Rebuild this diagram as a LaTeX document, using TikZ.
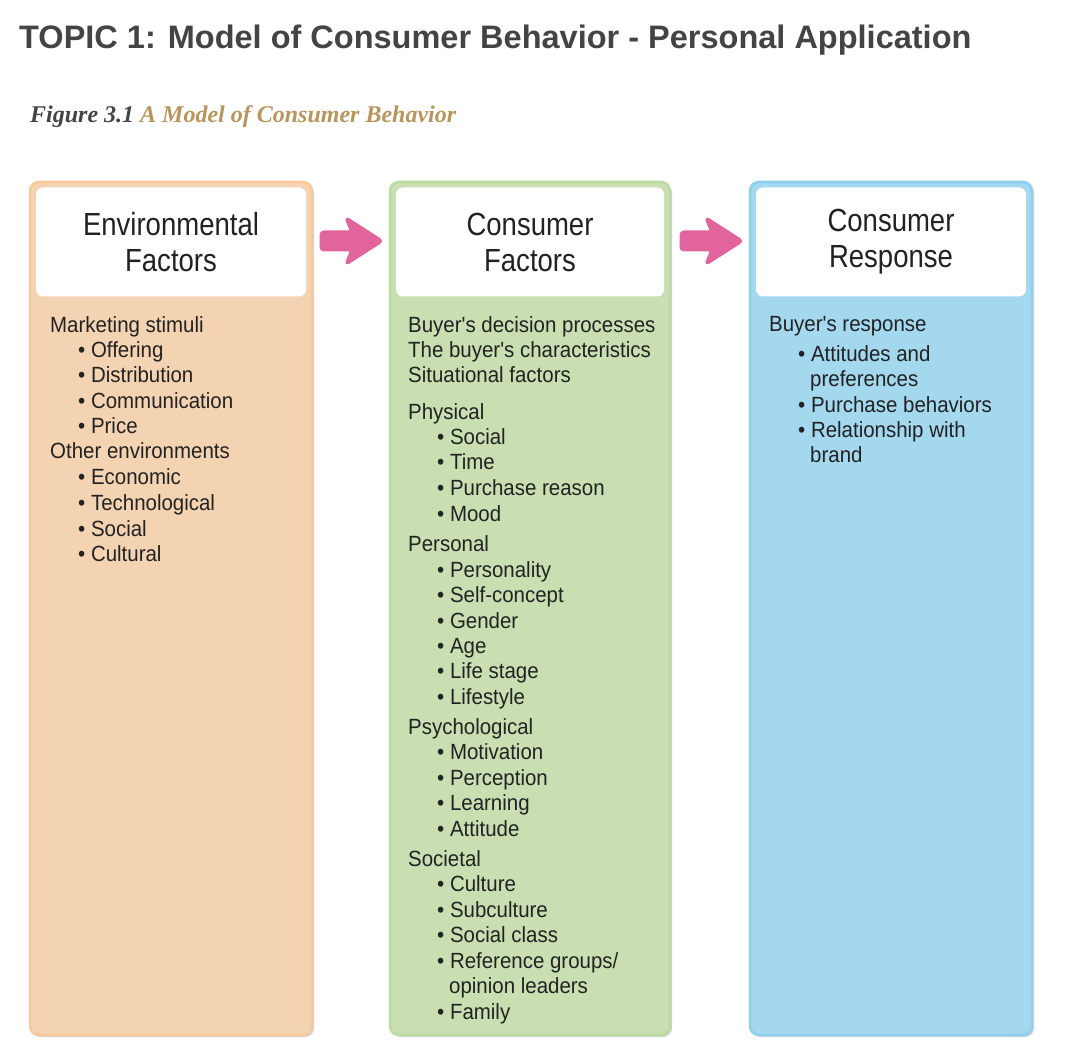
\documentclass[tikz,border=0pt]{standalone}
\usepackage{fontspec}
\setmainfont{Liberation Sans}
\newfontfamily\narrow[FakeStretch=0.86]{Liberation Sans}
\newfontfamily\bodyfont[FakeStretch=0.93]{Liberation Sans}
\newfontfamily\capfont{Liberation Serif}
\usetikzlibrary{shadows}
\definecolor{titlegray}{HTML}{444444}
\definecolor{tan}{HTML}{B8955C}
\definecolor{envfill}{HTML}{F4D3B2}
\definecolor{envline}{HTML}{F7C99A}
\definecolor{conffill}{HTML}{C9DFB2}
\definecolor{confline}{HTML}{BBDCA0}
\definecolor{resfill}{HTML}{A3D8EF}
\definecolor{resline}{HTML}{8CD0EE}
\definecolor{pinkarr}{HTML}{E2649C}
\definecolor{txt}{HTML}{222222}
\tikzset{
 col/.style={rounded corners=9pt,line width=2.5pt,drop shadow={shadow xshift=2pt,shadow yshift=-2pt,opacity=0.35}},
 head/.style={fill=white,rounded corners=7pt,inner sep=0pt,align=center,font=\narrow\fontsize{32}{36}\selectfont,text=txt},
 ln/.style={anchor=base west,inner sep=0pt,font=\bodyfont\fontsize{22}{25}\selectfont,text=txt},
 parr/.style={fill=pinkarr,draw=pinkarr,line width=3pt,line join=round,rounded corners=3pt}
}
\begin{document}
\begin{tikzpicture}[x=1pt,y=-1pt]
\useasboundingbox[fill=white] (0,0) rectangle (1074,1064);
\node[anchor=west,inner sep=0pt,font=\bfseries\fontsize{32.5}{36}\selectfont,text=titlegray] (title) at (19,40) {TOPIC 1: Model of Consumer Behavior - Personal Application};
\node[anchor=west,inner sep=0pt,font=\capfont\bfseries\itshape\fontsize{24}{28}\selectfont] (cap) at (30,117) {\textcolor{titlegray}{Figure 3.1} \textcolor{tan}{A Model of Consumer Behavior}};
% columns
\draw[col,fill=envfill,draw=envline] (30,182) rectangle (312,1035);
\draw[col,fill=conffill,draw=confline] (390,182) rectangle (670,1035);
\draw[col,fill=resfill,draw=resline] (750,182) rectangle (1032,1035);
\node[head,minimum width=270pt,minimum height=109pt] (h1) at (171,242) {Environmental\\Factors};
\node[head,minimum width=268pt,minimum height=109pt] (h2) at (530,242) {Consumer\\Factors};
\node[head,minimum width=270pt,minimum height=109pt] (h3) at (891,242) {Consumer\\Response};
% arrows
\draw[parr] (321,232) -- (352,232) -- (346,218) -- (382,241) -- (346,264) -- (352,250) -- (321,250) -- cycle;
\draw[parr] (681,232) -- (712,232) -- (706,218) -- (742,241) -- (706,264) -- (712,250) -- (681,250) -- cycle;
\node[inner sep=0pt] (a1) at (350,241) {};
\node[inner sep=0pt] (a2) at (710,241) {};
% column 1
\foreach \x/\y/\t [count=\i] in {50/325/{Marketing stimuli},78/350/{• Offering},78/375/{• Distribution},78/401/{• Communication},78/426/{• Price},50/451/{Other environments},78/477/{• Economic},78/502/{• Technological},78/528/{• Social},78/553/{• Cultural}}
 \node[ln] (ea\i) at (\x,\y+8) {\t};
% column 2
\foreach \x/\y/\t [count=\i] in {408/325/{Buyer's decision processes},408/350/{The buyer's characteristics},408/375/{Situational factors},408/412/{Physical},437/437/{• Social},437/462/{• Time},437/488/{• Purchase reason},437/513/{• Mood},408/543/{Personal},437/569/{• Personality},437/594/{• Self-concept},437/620/{• Gender},437/645/{• Age},437/670/{• Life stage},437/696/{• Lifestyle},408/726/{Psychological},437/751/{• Motivation},437/777/{• Perception},437/802/{• Learning},437/828/{• Attitude},408/858/{Societal},437/883/{• Culture},437/909/{• Subculture},437/934/{• Social class},437/960/{• Reference groups/},449/985/{opinion leaders},437/1011/{• Family}}
 \node[ln] (cb\i) at (\x,\y+8) {\t};
% column 3
\foreach \x/\y/\t [count=\i] in {769/324/{Buyer's response},798/354/{• Attitudes and},810/379/{preferences},798/405/{• Purchase behaviors},798/430/{• Relationship with},810/455/{brand}}
 \node[ln] (rc\i) at (\x,\y+8) {\t};
\end{tikzpicture}
\end{document}
